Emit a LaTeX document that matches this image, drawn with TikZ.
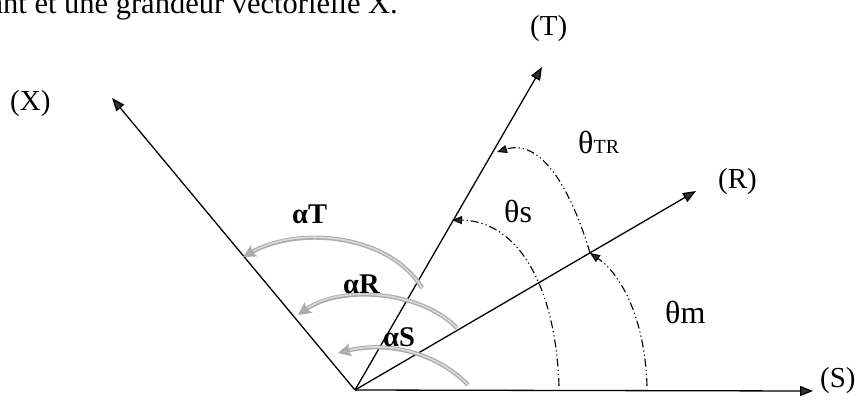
\documentclass[tikz,border=0pt]{standalone}
\usepackage{fontspec}
\setmainfont{Liberation Serif}
\usetikzlibrary{arrows.meta}
\begin{document}
\begin{tikzpicture}[x=1pt,y=-1pt,
  axis/.style={line width=1.3pt,black,-{Triangle[length=13pt,width=10pt,fill=black!80]}},
  angarc/.style={line width=1.1pt,black,dash pattern=on 8pt off 3pt on 1.2pt off 3pt on 1.2pt off 3pt,
     -{Triangle[length=10pt,width=8pt,fill=black!80]}},
  garc/.style={line width=4.2pt,gray!65,-{Stealth[length=13pt,width=13pt,inset=3pt,fill=gray!45]}},
  garcin/.style={line width=1.6pt,gray!30,shorten >=12pt},
  lab/.style={font=\fontsize{29}{31}\selectfont,inner sep=0pt,anchor=base west},
  thlab/.style={font=\fontsize{32}{34}\selectfont,inner sep=0pt,anchor=base west},
  alab/.style={font=\fontsize{28.5}{30}\selectfont\bfseries,inner sep=0pt,anchor=base west}]
\useasboundingbox (0,0) rectangle (864,400);
\clip (0,0) rectangle (864,400);
\fill[white] (0,0) rectangle (864,400);
% partial caption line at top
\node[font=\fontsize{30.5}{32}\selectfont,inner sep=0pt,anchor=base east] (cap) at (398,13) {ant et une grandeur vectorielle X.};
% axes
\coordinate (O) at (355,390);
\coordinate (Stip) at (813,391);
\coordinate (Xtip) at (112,98);
\coordinate (Ttip) at (542,67);
\coordinate (Rtip) at (696,191);
\draw[axis] (O) -- (Stip);
\draw[axis] (O) -- (Xtip);
\draw[axis] (O) -- (Ttip);
\draw[axis] (O) -- (Rtip);
\node[lab] (labS) at (820,387) {(S)};
\node[lab] (labX) at (10,110) {(X)};
\node[lab] (labT) at (530,35) {(T)};
\node[lab] (labR) at (718,188) {(R)};
% theta arcs
\coordinate (m0) at (647,386);
\coordinate (m1) at (590,253);
\coordinate (s0) at (559,386);
\coordinate (s1) at (452,220);
\coordinate (t0) at (590,253);
\coordinate (t1) at (497,152);
\draw[angarc] (m0) .. controls (645,320) and (622,275) .. (m1);
\draw[angarc] (s0) .. controls (556,290) and (520,221) .. (s1);
\draw[angarc] (t0) .. controls (572,192) and (542,138) .. (t1);
\node[thlab] (thm) at (665,323) {θm};
\node[thlab] (ths) at (504,222) {θs};
\node[thlab] (thtr) at (578,153) {θ\fontsize{20}{22}\selectfont TR};
% alpha arcs
\coordinate (aT0) at (422,288);
\coordinate (aT1) at (243,257);
\coordinate (aR0) at (457,328);
\coordinate (aR1) at (298,315);
\coordinate (aS0) at (468,385);
\coordinate (aS1) at (338,353);
\draw[garc] (aT0) .. controls (390,235) and (300,225) .. (aT1);
\draw[garcin] (aT0) .. controls (390,235) and (300,225) .. (aT1);
\draw[garc] (aR0) .. controls (420,290) and (340,285) .. (aR1);
\draw[garcin] (aR0) .. controls (420,290) and (340,285) .. (aR1);
\draw[garc] (aS0) .. controls (440,355) and (390,340) .. (aS1);
\draw[garcin] (aS0) .. controls (440,355) and (390,340) .. (aS1);
\node[alab] (laT) at (292,223) {αT};
\node[alab] (laR) at (343,293) {αR};
\node[alab] (laS) at (383,346) {αS};
\end{tikzpicture}
\end{document}
